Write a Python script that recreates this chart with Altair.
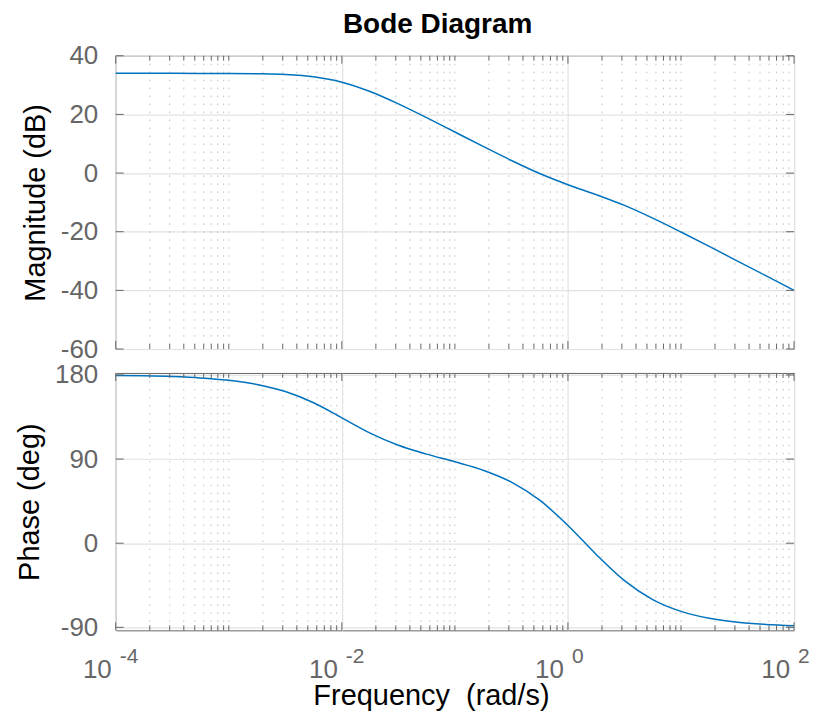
import altair as alt
import pandas as pd

# ---- data ----
freq = [1e-4, 1.778e-4, 3.162e-4, 5.623e-4, 1e-3, 1.778e-3, 3.162e-3, 5.623e-3,
        1e-2, 1.778e-2, 3.162e-2, 5.623e-2, 0.1, 0.1778, 0.3162, 0.5623,
        1.0, 1.778, 3.162, 5.623, 10.0, 17.78, 31.62, 56.23, 100.0]
magnitude_db = [34.0, 34.0, 34.0, 33.99, 33.96, 33.86, 33.59, 32.81,
                30.99, 27.81, 23.59, 18.88, 13.99, 9.09, 4.30, -0.14,
                -3.96, -7.34, -11.03, -15.37, -20.11, -25.02, -30.0, -34.99, -40.0]
phase_deg = [179.4, 179.0, 178.2, 176.8, 174.2, 169.8, 162.2, 150.2,
             134.1, 117.8, 104.8, 95.3, 87.1, 78.1, 65.3, 46.0,
             19.0, -12.0, -40.0, -60.3, -72.9, -80.3, -84.6, -86.9, -88.3]

x_major = [1e-4, 1e-2, 1e0, 1e2]
x_exponents = ["-4", "-2", "0", "2"]
x_minor = [m * 10.0 ** e for e in range(-4, 2) for m in range(1, 10)
           if not (m == 1 and e % 2 == 0)]
mag_ticks = [40, 20, 0, -20, -40, -60]
phase_ticks = [180, 90, 0, -90]

# ---- style ----
AX = "#666666"
FONT = "Liberation Sans"
LINE = "#0072BD"
W = 680
H1 = 294
H2 = 258

xs = alt.Scale(type="log", domain=[1e-4, 1e2], nice=False)


def x_enc(show_title):
    return alt.X(
        "f:Q", scale=xs,
        axis=alt.Axis(values=x_major, grid=True, gridColor="#e2e2e2", gridWidth=1.2,
                      labels=False, ticks=False, tickSize=0, domain=False,
                      title="Frequency\u00a0 (rad/s)" if show_title else None,
                      titleFont=FONT, titleFontSize=29, titleFontWeight="normal",
                      titleColor="black", titlePadding=51, titleX=316),
    )


def panel(values, ydomain, yticks, ytitle, H, bottom):
    xe = x_enc(bottom)
    ye = alt.Y(
        "v:Q", scale=alt.Scale(domain=ydomain, nice=False, zero=False),
        axis=alt.Axis(values=yticks, grid=True, gridColor="#e2e2e2", gridWidth=1.2,
                      ticks=False, tickSize=0, domain=False, labelFont=FONT,
                      labelFontSize=26, labelColor=AX, labelPadding=18,
                      labelFlush=False, labelOverlap=False,
                      labelExpr="'' + datum.value", title=ytitle,
                      titleFont=FONT, titleFontSize=29, titleFontWeight="normal",
                      titleColor="black", titlePadding=10),
    )
    line_df = pd.DataFrame({"f": freq, "v": values})
    minor_df = pd.DataFrame({"f": x_minor})
    major_df = pd.DataFrame({"f": x_major})
    ytick_df = pd.DataFrame({"v": yticks})

    layers = [
        alt.Chart(minor_df).mark_rule(strokeDash=[1.5, 6.5], color="#c0c0c0", strokeWidth=1).encode(x=xe),
        alt.Chart(line_df).mark_line(color=LINE, strokeWidth=1.5, interpolate="monotone").encode(x=xe, y=ye),
        alt.Chart(minor_df).mark_rule(color=AX).encode(x=xe, y=alt.value(0), y2=alt.value(5)),
        alt.Chart(minor_df).mark_rule(color=AX).encode(x=xe, y=alt.value(H), y2=alt.value(H - 5)),
        alt.Chart(major_df).mark_rule(color=AX).encode(x=xe, y=alt.value(0), y2=alt.value(8)),
        alt.Chart(major_df).mark_rule(color=AX).encode(x=xe, y=alt.value(H), y2=alt.value(H - 8)),
        alt.Chart(ytick_df).mark_rule(color=AX).encode(y=ye, x=alt.value(0), x2=alt.value(8)),
        alt.Chart(ytick_df).mark_rule(color=AX).encode(y=ye, x=alt.value(W), x2=alt.value(W - 8)),
    ]
    if bottom:
        lab_df = pd.DataFrame({"f": x_major, "e": x_exponents})
        layers.append(
            alt.Chart(lab_df).mark_text(text="10", align="right", baseline="alphabetic", dx=-4,
                                        fontSize=26, font=FONT, color=AX)
            .encode(x=xe, y=alt.value(306))
        )
        layers.append(
            alt.Chart(lab_df).mark_text(align="left", baseline="alphabetic", dx=4,
                                        fontSize=21, font=FONT, color=AX)
            .encode(x=xe, y=alt.value(291), text="e:N")
        )
    return alt.layer(*layers).properties(width=W, height=H)


top = panel(magnitude_db, [-60, 40], mag_ticks, "Magnitude (dB)", H1, False)
bot = panel(phase_deg, [-93.2, 182.1], phase_ticks, "Phase (deg)", H2, True)

chart = alt.vconcat(top, bot, spacing=24, bounds="flush").properties(
    title=alt.Title("Bode Diagram", fontSize=28, font=FONT, fontWeight="bold",
                    color="black", anchor="middle", offset=3, dx=25),
    padding={"left": 7, "top": 2, "right": 5, "bottom": 0},
).configure_view(stroke=AX, strokeWidth=1)

chart.save("out.html", embed_options={"renderer": "svg", "actions": False})
